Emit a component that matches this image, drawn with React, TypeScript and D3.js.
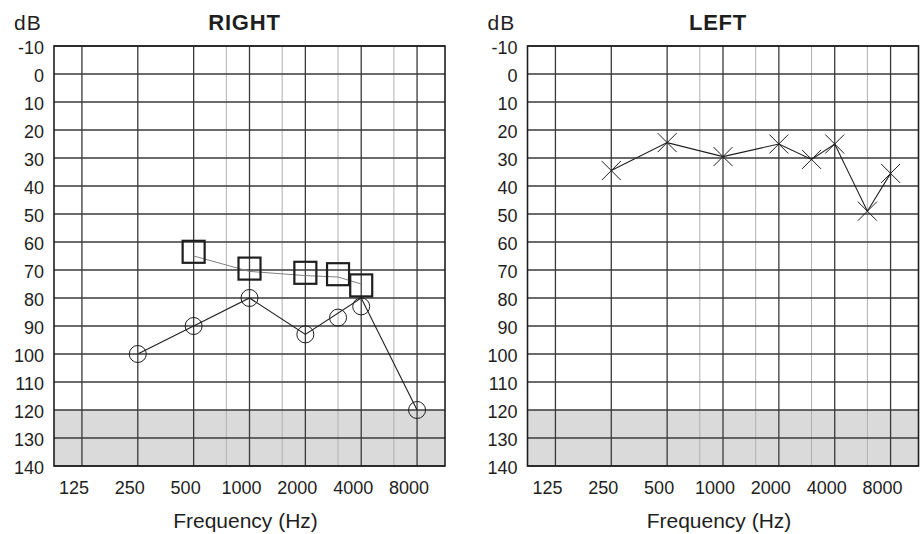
import React from 'react';
import * as d3 from 'd3';

// frequency grid (Hz) and hearing level ticks (dB)
const freqTicks = [125, 250, 500, 1000, 2000, 4000, 8000];
const halfOctaves = [750, 1500, 3000, 6000];
const dbTicks = [-10, 0, 10, 20, 30, 40, 50, 60, 70, 80, 90, 100, 110, 120, 130, 140];

// right ear: air conduction (circles)
const rightAirFreq = [250, 500, 1000, 2000, 3000, 4000, 8000];
const rightAirDb = [100, 90, 80, 93, 87, 83, 120];
// the connecting line as drawn in the figure
const rightAirLineFreq = [250, 500, 1000, 2000, 4000, 8000];
const rightAirLineDb = [100, 90, 80, 93, 80, 120];

// right ear: masked bone conduction (squares)
const rightBoneFreq = [500, 1000, 2000, 3000, 4000];
const rightBoneDb = [63.5, 69.5, 71, 71.5, 75.5];
const rightBoneLineDb = [65, 70.5, 72, 72.5, 75];

// left ear: air conduction (crosses)
const leftFreq = [250, 500, 1000, 2000, 3000, 4000, 6000, 8000];
const leftDb = [34.5, 24.5, 29.5, 25, 30.5, 25, 49, 35.5];

const font = '"Liberation Sans", Arial, Helvetica, sans-serif';
const ink = '#1e1e1e';

const plot = { left: 54, right: 445, top: 46, bottom: 466 };

type Props = {
  title: string;
  offsetX: number;
  children?: (x: d3.ScaleLogarithmic<number, number>, y: d3.ScaleLinear<number, number>) => React.ReactNode;
};

const Audiogram = ({ title, offsetX, children }: Props) => {
  const x = d3.scaleLog()
    .domain([125 / Math.SQRT2, 8000 * Math.SQRT2])
    .range([plot.left, plot.right]);
  const y = d3.scaleLinear()
    .domain([-10, 140])
    .range([plot.top, plot.bottom]);

  const cx = (plot.left + plot.right) / 2;

  return (
    <g transform={`translate(${offsetX},0)`} fontFamily={font}>
      <text x={14} y={30} fontSize={21} letterSpacing={1} fill={ink}>dB</text>
      <text x={cx - 5} y={30} fontSize={22} fontWeight="bold" letterSpacing={0.8} textAnchor="middle" fill={ink}>{title}</text>

      <rect x={plot.left} y={y(120)} width={plot.right - plot.left} height={y(140) - y(120)} fill="#d9dad9" />

      {halfOctaves.map(f => (
        <line key={f} x1={x(f)} x2={x(f)} y1={plot.top} y2={plot.bottom} stroke="#b0b0b0" strokeWidth={1} />
      ))}
      {freqTicks.map(f => (
        <line key={f} x1={x(f)} x2={x(f)} y1={plot.top} y2={plot.bottom} stroke="#3a3a3a" strokeWidth={1.3} />
      ))}
      {dbTicks.map(d => (
        <line key={d} x1={plot.left} x2={plot.right} y1={y(d)} y2={y(d)} stroke="#3a3a3a" strokeWidth={1.3} />
      ))}
      <rect x={plot.left} y={plot.top} width={plot.right - plot.left} height={plot.bottom - plot.top}
        fill="none" stroke={ink} strokeWidth={1.6} />

      {dbTicks.map(d => (
        <text key={d} x={44} y={y(d) + 2} fontSize={18} textAnchor="end" dominantBaseline="central" fill={ink}>{d}</text>
      ))}
      {freqTicks.map(f => (
        <text key={f} x={x(f) - 8} y={494} fontSize={18} textAnchor="middle" fill={ink}>{f}</text>
      ))}
      <text x={cx - 4} y={528} fontSize={21} textAnchor="middle" fill={ink}>Frequency (Hz)</text>

      {children && children(x, y)}
    </g>
  );
};

const App = () => {
  const line = d3.line<[number, number]>();

  return (
    <svg width={920} height={534} style={{ position: 'absolute', left: 0, top: 0, background: '#fff' }}>
      <Audiogram title="RIGHT" offsetX={0}>
        {(x, y) => {
          const airLine = line(rightAirLineFreq.map((f, i) => [x(f), y(rightAirLineDb[i])]));
          const boneLine = line(rightBoneFreq.map((f, i) => [x(f), y(rightBoneLineDb[i])]));
          return (
            <g>
              <path d={boneLine || ''} fill="none" stroke="#808080" strokeWidth={1} />
              <path d={airLine || ''} fill="none" stroke={ink} strokeWidth={1.1} />
              {rightAirFreq.map((f, i) => (
                <circle key={f} cx={x(f)} cy={y(rightAirDb[i])} r={8.5} fill="none" stroke={ink} strokeWidth={1} />
              ))}
              {rightBoneFreq.map((f, i) => (
                <rect key={f} x={x(f) - 11} y={y(rightBoneDb[i]) - 11} width={22} height={22}
                  fill="none" stroke={ink} strokeWidth={2.2} />
              ))}
            </g>
          );
        }}
      </Audiogram>
      <Audiogram title="LEFT" offsetX={473.5}>
        {(x, y) => {
          const pts = leftFreq.map((f, i) => [x(f), y(leftDb[i])] as [number, number]);
          const s = 9.5;
          return (
            <g>
              <path d={line(pts) || ''} fill="none" stroke={ink} strokeWidth={1.1} />
              {pts.map(([px, py], i) => (
                <path key={i} d={`M${px - s},${py - s}L${px + s},${py + s}M${px - s},${py + s}L${px + s},${py - s}`}
                  stroke={ink} strokeWidth={1} fill="none" />
              ))}
            </g>
          );
        }}
      </Audiogram>
    </svg>
  );
};

export default App;
